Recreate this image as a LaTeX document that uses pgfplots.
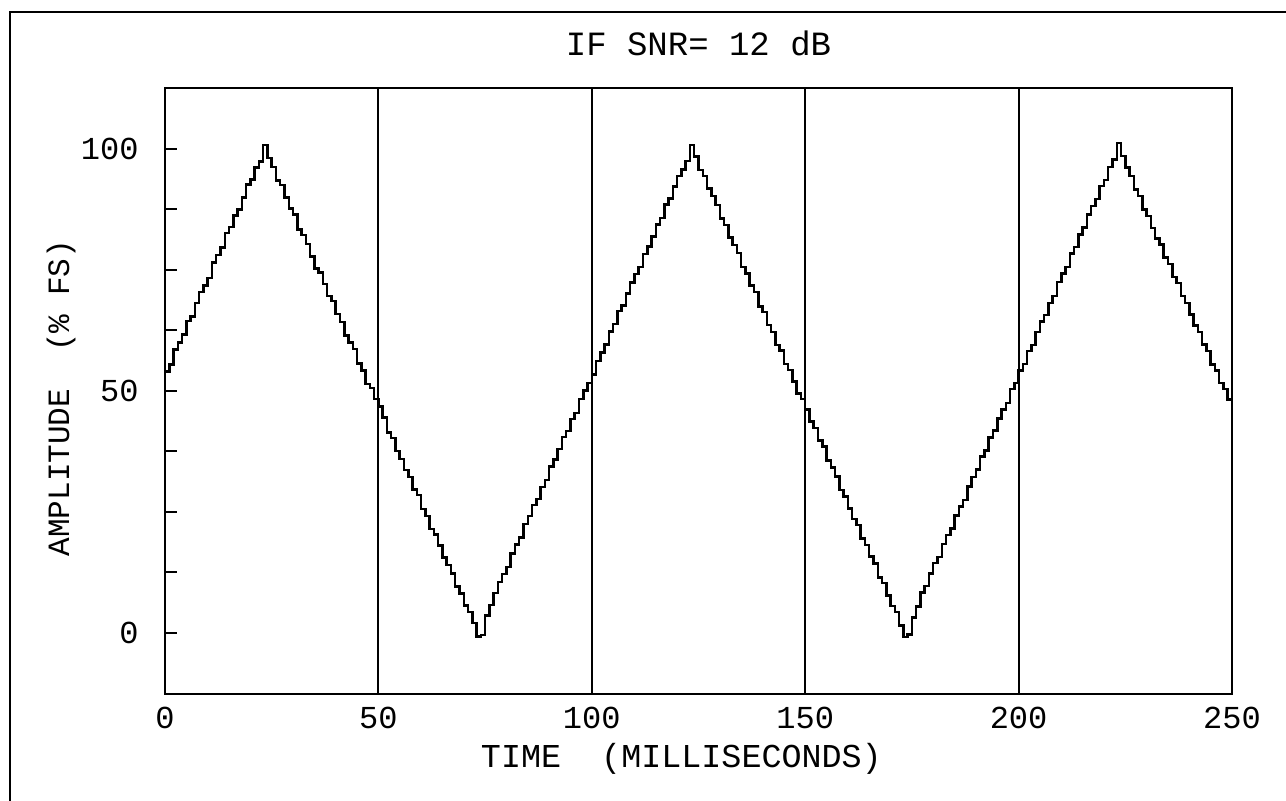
\documentclass[border=0pt]{standalone}
\usepackage{fontspec}
\setmainfont{Liberation Mono}
\usepackage{pgfplots}
\usepackage{pgfplotstable}
\pgfplotsset{compat=1.18}
\pgfplotstableread{
t v
0 54.0
1 55.5
2 58.6
3 60.0
4 61.7
5 64.5
6 65.4
7 68.2
8 70.4
9 71.8
10 73.3
11 76.5
12 78.1
13 79.6
14 82.6
15 83.9
16 86.3
17 87.5
18 90.0
19 92.7
20 93.7
21 96.2
22 97.4
23 100.8
24 98.1
25 96.3
26 93.5
27 92.6
28 90.0
29 87.7
30 86.5
31 83.4
32 82.2
33 80.4
34 77.8
35 75.3
36 74.5
37 72.1
38 69.6
39 68.6
40 65.9
41 64.3
42 61.5
43 60.0
44 58.7
45 55.7
46 54.2
47 51.4
48 50.6
49 48.3
50 46.8
51 44.5
52 41.4
53 40.3
54 37.6
55 36.0
56 33.7
57 32.2
58 29.6
59 28.5
60 25.6
61 24.2
62 21.5
63 20.4
64 18.1
65 15.6
66 14.0
67 12.3
68 9.6
69 8.2
70 5.7
71 4.3
72 2.1
73 -0.7
74 -0.4
75 3.6
76 5.8
77 8.3
78 10.5
79 12.2
80 13.6
81 16.4
82 18.3
83 19.7
84 22.5
85 24.2
86 26.4
87 27.7
88 30.2
89 31.6
90 34.4
91 35.8
92 38.0
93 40.5
94 41.7
95 44.2
96 45.5
97 48.3
98 50.1
99 51.7
100 53.4
101 56.2
102 58.0
103 59.6
104 62.3
105 63.8
106 66.5
107 67.7
108 70.1
109 72.4
110 74.2
111 75.6
112 78.3
113 79.8
114 81.9
115 84.4
116 85.7
117 88.5
118 89.8
119 92.2
120 94.4
121 95.8
122 97.5
123 100.8
124 98.4
125 95.7
126 94.4
127 91.8
128 90.3
129 88.4
130 85.6
131 84.3
132 81.7
133 80.2
134 78.5
135 75.6
136 74.3
137 71.8
138 70.4
139 67.5
140 66.3
141 63.6
142 62.2
143 59.5
144 58.4
145 55.6
146 54.3
147 52.0
148 49.5
149 48.3
150 46.2
151 43.7
152 42.4
153 39.8
154 38.5
155 35.6
156 34.2
157 32.3
158 29.5
159 28.2
160 25.7
161 23.6
162 22.3
163 19.5
164 18.2
165 15.8
166 14.4
167 11.5
168 10.3
169 7.7
170 5.6
171 4.3
172 1.5
173 -0.8
174 -0.3
175 3.2
176 5.5
177 8.4
178 9.7
179 12.3
180 14.5
181 15.7
182 18.4
183 20.2
184 21.6
185 24.3
186 26.1
187 27.5
188 30.3
189 32.2
190 33.8
191 36.5
192 37.7
193 40.4
194 41.8
195 44.3
196 46.2
197 47.5
198 50.4
199 51.7
200 54.2
201 55.6
202 58.3
203 59.5
204 62.2
205 64.4
206 65.7
207 68.2
208 69.6
209 72.5
210 74.3
211 75.6
212 78.4
213 79.7
214 82.3
215 83.8
216 86.5
217 88.2
218 89.7
219 92.4
220 93.6
221 96.3
222 97.8
223 101.2
224 98.5
225 96.2
226 94.4
227 91.6
228 90.3
229 87.5
230 86.2
231 83.7
232 81.5
233 80.3
234 77.6
235 76.2
236 73.5
237 72.3
238 69.6
239 68.2
240 65.8
241 63.5
242 62.2
243 59.6
244 58.3
245 55.5
246 54.2
247 51.7
248 50.4
249 48.2
250 48.0
}\wavedata
\begin{document}
\begin{tikzpicture}[x=1pt,y=1pt]
\path[use as bounding box] (0,0) rectangle (643,400.5);
\draw[line width=1.2pt] (5,0) -- (5,394.5) -- (643,394.5);
\begin{axis}[
  at={(82.5pt,53.5pt)}, anchor=south west,
  scale only axis, width=533.5pt, height=303pt,
  xmin=0, xmax=250, ymin=-12.6, ymax=112.6,
  xtick={0,50,...,250},
  ytick={0,50,100},
  minor ytick={12.5,25,37.5,62.5,75,87.5},
  ytick pos=left,
  tick align=inside,
  major tick length=6pt, minor tick length=6pt,
  xtick style={draw=none},
  ytick style={black, line width=1pt},
  minor tick style={black, line width=1pt},
  xmajorgrids,
  major x grid style={black, line width=1pt},
  axis line style={black, line width=1pt},
  /pgf/number format/assume math mode=true,
  tick label style={font=\fontsize{16}{19}\selectfont},
  yticklabel style={anchor=east, inner sep=0pt, xshift=-13pt},
  xticklabel style={anchor=north, inner sep=0pt, yshift=-6.5pt},
  title={IF SNR= 12 dB},
  title style={at={(axis description cs:0.5,1.033)}, anchor=south, inner sep=0pt, font=\fontsize{17}{20}\selectfont},
  xlabel={TIME\ \ (MILLISECONDS)},
  xlabel style={at={(axis description cs:0.484,-0.0809)}, anchor=north, inner sep=0pt, font=\fontsize{16.7}{20}\selectfont},
  ylabel={AMPLITUDE\ \ (\% FS)},
  ylabel style={at={(axis description cs:-0.0835,0.488)}, anchor=south, inner sep=0pt, font=\fontsize{15.5}{19}\selectfont},
]
\addplot[black, line width=1.25pt, const plot] table[x=t, y=v] {\wavedata};
\end{axis}
\end{tikzpicture}
\end{document}
